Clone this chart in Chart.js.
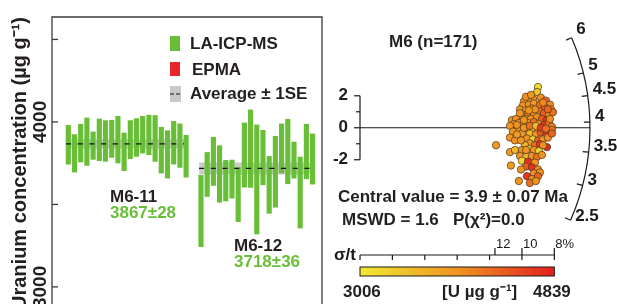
<!DOCTYPE html>
<html>
<head>
<meta charset="UTF-8">
<title>M6 uranium concentration and radial plot</title>
<script src="https://cdn.jsdelivr.net/npm/chart.js"></script>
<style>
    body {
        margin: 0;
        width: 617px;
        height: 304px;
        overflow: hidden;
        background: #fff;
        position: relative;
    }

    #left { position: absolute; left: 0; top: 0; }
    #right { position: absolute; left: 322px; top: 0; }
</style>
</head>
<body>
<canvas id="left" width="330" height="320"></canvas>
<canvas id="right" width="295" height="304"></canvas>

<script>
    // LA-ICP-MS spot ranges (value +/- error), ug/g
    const m611Low = [3744, 3696, 3757, 3736, 3773, 3765, 3761, 3785, 3751, 3704, 3777, 3791, 3811, 3801, 3761, 3690, 3659, 3744, 3724, 3665];
    const m611High = [3980, 3923, 3986, 4024, 3939, 4018, 4008, 4010, 4034, 3933, 4008, 4020, 4034, 4041, 4039, 3968, 3947, 4004, 3988, 3919];
    const m612Low = [3244, 3548, 3615, 3513, 3521, 3538, 3396, 3605, 3603, 3321, 3619, 3446, 3483, 3690, 3625, 3659, 3357, 3655, 3623];
    const m612High = [3676, 3815, 3907, 3856, 3767, 3769, 3724, 3994, 4073, 3982, 3949, 3791, 3913, 3988, 4016, 3878, 3787, 3986, 3927];
    const groupNames = ['M6-11', 'M6-12'];
    const groupMeans = [3867, 3718];
    const groupSE = [28, 36];
    const yTicks = [3000, 3500, 4000, 4500];
    const yTickLabels = ['3000', '', '4000', ''];

    // radial plot: precision (1/sigma), standardised estimate, U content
    const precision = [10.99, 10.93, 10.68, 10.37, 10.12, 11.17, 11.48, 11.73, 10.06, 10.43, 10.74, 11.11, 11.42, 11.79, 9.88, 10.25, 10.62,
        10.00, 10.37, 10.74, 11.05, 11.36, 11.67, 11.91, 9.81, 10.19, 10.56, 10.93, 11.23, 11.54, 9.38, 9.63, 9.51, 9.81, 10.06, 10.37,
        10.74, 11.05, 11.36, 11.67, 11.85, 9.26, 9.75, 9.44, 10.31, 10.68, 10.99, 11.30, 11.60, 11.85, 10.00, 10.49, 10.86, 11.17, 11.48,
        9.26, 9.57, 10.31, 10.68, 10.99, 11.30, 11.60, 10.49, 10.80, 11.11, 10.19, 8.40, 9.26, 9.57, 10.00, 10.43, 10.74, 11.05, 11.54,
        9.88, 10.25, 10.62, 10.93, 11.23, 9.32, 10.00, 10.37, 10.80, 10.25, 10.62, 9.94, 10.99, 10.74, 11.11, 10.31, 10.62, 10.99, 9.81,
        10.49, 10.86, 10.25, 10.56, 9.88, 9.69, 10.12, 10.49, 10.86, 11.17, 11.48, 11.73, 11.60, 11.30, 10.80, 10.43, 9.94, 10.25,
        11.30, 9.69, 10.12, 11.85];
    const zScore = [2.55, 2.24, 1.82, 1.76, 1.64, 1.88, 1.70, 1.45, 1.39, 1.45, 1.52, 1.45, 1.27, 1.15, 1.15, 1.09, 1.21,
        0.85, 0.79, 0.91, 1.03, 0.91, 0.79, 0.97, 0.61, 0.55, 0.55, 0.67, 0.55, 0.48, 0.48, 0.55, 0.24, 0.30, 0.18, 0.30,
        0.36, 0.24, 0.18, 0.30, 0.06, 0.12, -0.12, -0.24, -0.06, 0.00, -0.12, -0.06, -0.24, -0.12, -0.36, -0.36, -0.42, -0.30, -0.48,
        -0.61, -0.79, -0.67, -0.73, -0.79, -0.73, -0.61, -0.97, -1.09, -1.03, -1.09, -1.09, -1.52, -1.39, -1.39, -1.33, -1.39, -1.45, -1.21,
        -1.76, -1.82, -1.76, -1.82, -1.70, -2.36, -2.06, -2.12, -2.18, -2.42, -2.48, -2.61, -2.61, -2.85, -2.79, -3.03, -3.21, -3.03, -3.33,
        -3.45, -3.33, 1.94, 2.06, 0.91, 0.18, 0.00, 0.12, 0.12, 0.00, -0.06, 0.55, 1.15, 1.58, 1.15, 1.09, -0.79, -1.39,
        -1.09, -0.42, 0.48, -0.36];
    const uConc = [3150, 3400, 3900, 3900, 3950, 3950, 4250, 4000, 3900, 3950, 3850, 4200, 4350, 3950, 3900, 3900, 3950,
        3900, 4200, 3900, 4200, 4350, 3950, 4200, 3900, 3550, 3900, 3950, 4350, 4650, 3900, 3900, 3850, 3900, 3950, 3900,
        4200, 3900, 4650, 4200, 3950, 3900, 3900, 3900, 3900, 3200, 3900, 4650, 3950, 4200, 3900, 3550, 3900, 4350, 4700,
        3900, 3900, 3900, 3200, 4350, 3900, 3950, 3900, 4200, 4650, 3550, 3850, 3850, 3550, 3900, 3200, 3900, 3250, 4750,
        3900, 3550, 3900, 4200, 3900, 3850, 3200, 4700, 3900, 4350, 4700, 3900, 3950, 3950, 3950, 4650, 3950, 4300, 3900,
        4200, 3950, 3950, 3900, 3900, 3950, 3900, 4200, 3550, 4650, 4200, 3950, 4300, 4000, 3900, 3900, 3900, 3900,
        3950, 3850, 3900, 4300];
    const centralAge = 3.9;
    const arcAges = [2.5, 3, 3.5, 4, 4.5, 5, 6];
    const sigmaTicks = [0, 2, 4, 6, 8, 10, 12];
    const sigmaLabelPos = [100 / 12, 10, 12];
    const sigmaLabels = ['12', '10', '8%'];
    const uMin = 3006, uMax = 4839;

    const GREEN = '#69be37';
    const FONT = '"Liberation Sans", Arial, sans-serif';

    function uColor(u) {
        const t = Math.max(0, Math.min(1, (u - uMin) / (uMax - uMin)));
        const a = [240, 234, 52], b = [240, 148, 32], c = [226, 32, 30];
        const p = t < 0.5 ? a : b, q = t < 0.5 ? b : c, f = t < 0.5 ? t * 2 : (t - 0.5) * 2;
        return 'rgb(' + p.map((v, i) => Math.round(v + (q[i] - v) * f)).join(',') + ')';
    }

    // ---------- left: uranium concentration ----------
    const xStart2 = 22.4;
    const bars1 = m611Low.map((lo, i) => ({ x: i + 1, y: [lo, m611High[i]] }));
    const bars2 = m612Low.map((lo, i) => ({ x: xStart2 + i, y: [lo, m612High[i]] }));
    const spans = [[0.63, 19.66], [xStart2 - 0.3, xStart2 + m612Low.length - 0.6]];

    const leftDecor = {
        id: 'leftDecor',
        afterDraw(chart) {
            const ctx = chart.ctx;
            const a = chart.chartArea;
            const ys = chart.scales.y;
            ctx.save();
            ctx.strokeStyle = '#3c3c3c';
            ctx.lineWidth = 1.3;
            ctx.beginPath();
            ctx.moveTo(a.left, a.bottom + 20);
            ctx.lineTo(a.left, a.top);
            ctx.lineTo(a.right, a.top);
            ctx.lineTo(a.right, a.bottom + 20);
            ctx.stroke();
            // inward ticks + rotated labels
            ctx.font = 'bold 19px ' + FONT;
            ctx.fillStyle = '#231f20';
            yTicks.forEach((v, i) => {
                const y = ys.getPixelForValue(v);
                ctx.beginPath();
                ctx.moveTo(a.left, y);
                ctx.lineTo(a.left + 6, y);
                ctx.stroke();
                if (yTickLabels[i]) {
                    ctx.save();
                    ctx.translate(a.left - 2, y);
                    ctx.rotate(-Math.PI / 2);
                    ctx.textAlign = 'center';
                    ctx.textBaseline = 'bottom';
                    ctx.fillText(yTickLabels[i], 0, 0);
                    ctx.restore();
                }
            });
            // legend
            ctx.font = 'bold 17px ' + FONT;
            ctx.textBaseline = 'middle';
            ctx.textAlign = 'left';
            ctx.fillStyle = GREEN;
            ctx.fillRect(170, 36, 10, 15);
            ctx.fillStyle = '#e8262b';
            ctx.fillRect(170, 62, 10, 14);
            ctx.fillStyle = '#c9c9c9';
            ctx.fillRect(170, 86, 11, 16);
            ctx.strokeStyle = '#111';
            ctx.lineWidth = 1.2;
            ctx.beginPath();
            ctx.moveTo(170, 94); ctx.lineTo(174, 94);
            ctx.moveTo(176, 94); ctx.lineTo(180, 94);
            ctx.stroke();
            ctx.fillStyle = '#231f20';
            ctx.fillText('LA-ICP-MS', 190, 44);
            ctx.fillText('EPMA', 192, 70);
            ctx.fillText('Average \u00b1 1SE', 190, 94);
            // group labels
            const lab = [[110, 197], [234, 246]];
            groupNames.forEach((n, i) => {
                ctx.fillStyle = '#231f20';
                ctx.fillText(n, lab[i][0], lab[i][1]);
                ctx.fillStyle = GREEN;
                ctx.fillText(groupMeans[i] + '\u00b1' + groupSE[i], lab[i][0], lab[i][1] + 16);
            });
            ctx.restore();
        }
    };

    const leftSets = [];
    groupMeans.forEach((m, i) => {
        leftSets.push({
            type: 'line', order: 3,
            data: [{ x: spans[i][0], y: m + groupSE[i] }, { x: spans[i][1], y: m + groupSE[i] }],
            fill: { value: m - groupSE[i] },
            backgroundColor: 'rgba(185,185,185,0.75)', borderWidth: 0, pointRadius: 0
        });
        leftSets.push({
            type: 'line', order: 1,
            data: [{ x: spans[i][0], y: m }, { x: spans[i][1], y: m }],
            borderColor: '#111', borderWidth: 1.3, borderDash: [5, 6.7], pointRadius: 0, fill: false
        });
    });
    leftSets.push({ label: 'M6-11', data: bars1, backgroundColor: GREEN, barThickness: 4.5, grouped: false, order: 2 });
    leftSets.push({ label: 'M6-12', data: bars2, backgroundColor: GREEN, barThickness: 4.5, grouped: false, order: 2 });

    new Chart(document.getElementById('left'), {
        type: 'bar',
        data: { datasets: leftSets },
        options: {
            responsive: false,
            animation: false,
            layout: { padding: { top: 17, right: 8, bottom: 10, left: 0 } },
            plugins: { legend: { display: false }, tooltip: { enabled: false } },
            scales: {
                x: { type: 'linear', min: -1.63, max: 41.92, offset: false, display: false },
                y: {
                    min: 2860, max: 4636,
                    ticks: { display: false },
                    grid: { display: false },
                    border: { display: false },
                    title: {
                        display: true,
                        text: 'Uranium concentration (\u00b5g g\u207b\u00b9)',
                        color: '#231f20',
                        font: { family: FONT, size: 20, weight: 'bold' },
                        padding: { top: 8, bottom: 0 }
                    },
                    afterFit(s) { s.width = 52; }
                }
            }
        },
        plugins: [leftDecor]
    });

    // ---------- right: radial plot ----------
    const radialDecor = {
        id: 'radialDecor',
        beforeDatasetsDraw(chart) {
            const ctx = chart.ctx;
            const xs = chart.scales.x, ys = chart.scales.y;
            const x0 = xs.getPixelForValue(0), y0 = ys.getPixelForValue(0);
            const R = xs.getPixelForValue(14.2) - x0;
            ctx.save();
            ctx.strokeStyle = '#1a1a1a';
            ctx.lineWidth = 1.1;
            ctx.beginPath();
            ctx.moveTo(x0, y0);
            ctx.lineTo(x0 + R, y0);
            ctx.stroke();
            ctx.restore();
        },
        afterDraw(chart) {
            const ctx = chart.ctx;
            const xs = chart.scales.x, ys = chart.scales.y;
            const x0 = xs.getPixelForValue(0), y0 = ys.getPixelForValue(0);
            const R = xs.getPixelForValue(14.2) - x0;
            const angle = t => Math.atan2(ys.getPixelForValue(Math.log(t / centralAge)) - y0, xs.getPixelForValue(1) - x0);
            ctx.save();
            ctx.strokeStyle = '#1a1a1a';
            ctx.fillStyle = '#1a1a1a';
            ctx.lineWidth = 1.2;

            // age arc
            ctx.beginPath();
            ctx.arc(x0, y0, R, angle(arcAges[arcAges.length - 1]), angle(arcAges[0]));
            ctx.stroke();
            ctx.font = 'bold 17px ' + FONT;
            ctx.textAlign = 'left';
            ctx.textBaseline = 'middle';
            arcAges.forEach(t => {
                const th = angle(t);
                ctx.beginPath();
                ctx.moveTo(x0 + (R - 6) * Math.cos(th), y0 + (R - 6) * Math.sin(th));
                ctx.lineTo(x0 + R * Math.cos(th), y0 + R * Math.sin(th));
                ctx.stroke();
                ctx.fillText(String(t), x0 + (R + 5) * Math.cos(th), y0 + (R + 5) * Math.sin(th) - 6);
            });

            // standardised estimate axis
            ctx.beginPath();
            ctx.moveTo(x0, ys.getPixelForValue(2));
            ctx.lineTo(x0, ys.getPixelForValue(-2));
            ctx.stroke();
            ctx.textAlign = 'right';
            [-2, -1, 0, 1, 2].forEach(v => {
                const y = ys.getPixelForValue(v);
                const len = v % 2 === 0 ? 6 : 4;
                ctx.beginPath();
                ctx.moveTo(x0 - len, y);
                ctx.lineTo(x0, y);
                ctx.stroke();
                if (v % 2 === 0) ctx.fillText(String(v), x0 - 12, y);
            });

            // sigma/t axis
            const sy = 255;
            ctx.beginPath();
            ctx.moveTo(xs.getPixelForValue(sigmaTicks[0]), sy);
            ctx.lineTo(xs.getPixelForValue(sigmaTicks[sigmaTicks.length - 1]), sy);
            sigmaTicks.forEach(v => {
                const x = xs.getPixelForValue(v);
                ctx.moveTo(x, sy);
                ctx.lineTo(x, sy + 5);
            });
            sigmaLabelPos.forEach(v => {
                const x = xs.getPixelForValue(v);
                ctx.moveTo(x, sy);
                ctx.lineTo(x, sy - 7);
            });
            ctx.stroke();
            ctx.fillText('\u03c3/t', x0 - 4, sy);
            ctx.font = '13px ' + FONT;
            ctx.textAlign = 'left';
            ctx.textBaseline = 'alphabetic';
            sigmaLabelPos.forEach((v, i) => ctx.fillText(sigmaLabels[i], xs.getPixelForValue(v) + 1, sy - 7));

            // colour bar
            const cx0 = xs.getPixelForValue(0), cx1 = xs.getPixelForValue(12);
            const g = ctx.createLinearGradient(cx0, 0, cx1, 0);
            g.addColorStop(0, uColor(uMin));
            g.addColorStop(0.5, uColor((uMin + uMax) / 2));
            g.addColorStop(1, uColor(uMax));
            ctx.fillStyle = g;
            ctx.fillRect(cx0, 267, cx1 - cx0, 9);
            ctx.lineWidth = 1;
            ctx.strokeRect(cx0, 267, cx1 - cx0, 9);

            // texts
            ctx.fillStyle = '#231f20';
            ctx.font = 'bold 17px ' + FONT;
            ctx.textBaseline = 'middle';
            ctx.textAlign = 'left';
            ctx.fillText(String(uMin), 21, 292);
            ctx.fillText('[U \u00b5g g\u207b\u00b9]', 120, 292);
            ctx.fillText(String(uMax), 211, 292);
            ctx.fillText('Central value = 3.9 \u00b1 0.07 Ma', 16, 197);
            ctx.fillText('MSWD = 1.6   P(\u03c7\u00b2)=0.0', 20, 220);
            ctx.fillText('M6 (n=171)', 67, 42);
            ctx.restore();
        }
    };

    new Chart(document.getElementById('right'), {
        type: 'scatter',
        data: {
            datasets: [{
                data: precision.map((p, i) => ({ x: p, y: zScore[i] })),
                backgroundColor: ctx => uColor(uConc[ctx.dataIndex]),
                borderColor: '#4a3520',
                borderWidth: 0.7,
                pointRadius: 3.7
            }]
        },
        options: {
            responsive: false,
            animation: false,
            layout: { padding: { left: 38, right: 5, top: 0, bottom: 0 } },
            plugins: { legend: { display: false }, tooltip: { enabled: false } },
            scales: {
                x: { type: 'linear', min: 0, max: 15.56, display: false },
                y: { type: 'linear', min: -10.727, max: 7.697, display: false }
            }
        },
        plugins: [radialDecor]
    });
</script>
</body>
</html>
